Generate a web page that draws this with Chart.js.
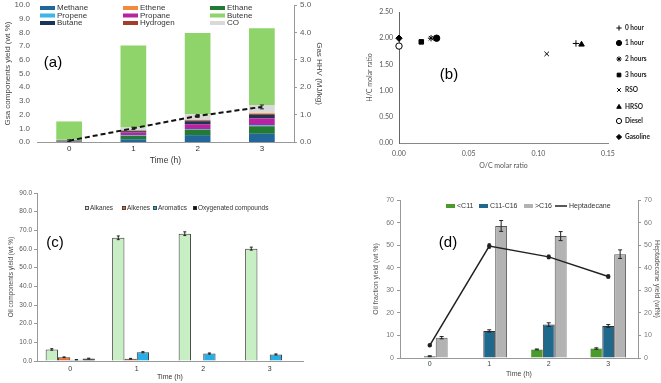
<!DOCTYPE html>
<html><head><meta charset="utf-8">
<script src="https://cdn.jsdelivr.net/npm/chart.js@4.4.0/dist/chart.umd.min.js"></script>
<style>
html,body{margin:0;padding:0;background:#fff;width:661px;height:383px;overflow:hidden}
canvas{position:absolute}
</style></head><body>
<canvas id="ca" width="330" height="175" style="left:0;top:0;width:330px;height:175px"></canvas>
<canvas id="cb" width="321" height="180" style="left:340px;top:0;width:321px;height:180px"></canvas>
<canvas id="cc" width="335" height="193" style="left:0;top:190px;width:335px;height:193px"></canvas>
<canvas id="cd" width="321" height="193" style="left:340px;top:190px;width:321px;height:193px"></canvas>
<script>
// ================= DATA =================
const timeLabels = ['0', '1', '2', '3'];

// (a) gas component yields (wt %)
const gasMethane  = [0.02, 0.20, 0.50, 0.60];
const gasEthane   = [0.04, 0.25, 0.40, 0.55];
const gasPropene  = [0.01, 0.04, 0.05, 0.08];
const gasPropane  = [0.02, 0.20, 0.35, 0.50];
const gasButane   = [0.02, 0.10, 0.22, 0.25];
const gasHydrogen = [0.02, 0.04, 0.06, 0.07];
const gasEthene   = [0.01, 0.03, 0.04, 0.05];
const gasCO       = [0.02, 0.20, 0.40, 0.60];
const gasButene   = [1.34, 5.99, 5.93, 5.60];
const gasHHV      = [0.05, 0.50, 0.95, 1.28];   // MJ/kg (right axis)
const gasHHVErr   = [0.03, 0.04, 0.05, 0.07];

// (b) van Krevelen points
const bNames = ['0 hour', '1 hour', '2 hours', '3 hours', 'RSO', 'HRSO', 'Diesel', 'Gasoline'];
const bOC    = [0.127, 0.027, 0.023, 0.016, 0.106, 0.131, 0.000, 0.000];
const bHC    = [1.90, 2.00, 2.00, 1.93, 1.70, 1.88, 1.85, 2.00];

// (c) oil components yield (wt %)
const oilAlkanes   = [6.2, 66.0, 68.2, 60.2];
const oilAlkenes   = [2.0, 1.2, null, null];
const oilAromatics = [0.7, 4.7, 4.0, 3.5];
const oilOxygen    = [1.3, null, null, null];
const errAlkanes   = [0.4, 1.0, 1.0, 0.8];
const errAlkenes   = [0.2, 0.2, 0, 0];
const errAromatics = [0.1, 0.3, 0.3, 0.3];
const errOxygen    = [0.2, 0, 0, 0];

// (d) oil fraction yield (wt %)
const fracLt11   = [null, null, 3.8, 4.2];
const frac11to16 = [0.8, 12.0, 14.8, 14.2];
const fracGt16   = [9.0, 58.5, 54.0, 46.0];
const heptadecane = [5.6, 49.6, 44.8, 36.1];
const errLt11   = [0, 0, 0.2, 0.3];
const err11to16 = [0.2, 0.5, 0.8, 0.6];
const errGt16   = [0.5, 2.4, 2.0, 1.9];
const errHepta  = [0.3, 1.0, 0.8, 0.7];

// ================= HELPERS =================
Chart.defaults.font.family = "'Liberation Sans', Arial, sans-serif";
Chart.defaults.animation = false;
const fixW = w => s => { s.width = w; s.paddingTop = 0; s.paddingBottom = 0; };
const fixH = h => s => { s.height = h; };

const errorBars = {
  id: 'errorBars',
  afterDatasetsDraw(chart) {
    const ctx = chart.ctx;
    chart.data.datasets.forEach((ds, i) => {
      if (!ds.errors) return;
      const meta = chart.getDatasetMeta(i);
      const yS = chart.scales[meta.yAxisID];
      ctx.save();
      ctx.strokeStyle = ds.errorColor || '#222';
      ctx.lineWidth = 1;
      meta.data.forEach((el, j) => {
        const e = ds.errors[j], v = ds.data[j];
        if (!e || v == null) return;
        const x = el.x, y1 = yS.getPixelForValue(v + e), y2 = yS.getPixelForValue(v - e);
        const c = ds.errorCap || 2;
        ctx.beginPath();
        ctx.moveTo(x, y1); ctx.lineTo(x, y2);
        ctx.moveTo(x - c, y1); ctx.lineTo(x + c, y1);
        ctx.moveTo(x - c, y2); ctx.lineTo(x + c, y2);
        ctx.stroke();
      });
      ctx.restore();
    });
  }
};

function drawMarker(ctx, style, r, x, y) {
  if (Chart.helpers && Chart.helpers.drawPoint) {
    Chart.helpers.drawPoint(ctx, {pointStyle: style, radius: r, borderWidth: 1, rotation: 0}, x, y);
  }
}

function makeLegend(items, cfg) {
  return {
    id: 'gridLegend',
    afterDraw(chart) {
      const ctx = chart.ctx;
      ctx.save();
      ctx.textBaseline = 'middle';
      ctx.font = cfg.font;
      items.forEach(it => {
        const ds = chart.data.datasets[it.ds];
        if (it.kind === 'box') {
          ctx.fillStyle = ds.backgroundColor;
          ctx.fillRect(it.x, it.y - cfg.h / 2, cfg.w, cfg.h);
          if (cfg.border) { ctx.strokeStyle = cfg.border; ctx.lineWidth = 0.8; ctx.strokeRect(it.x + 0.5, it.y - cfg.h / 2 + 0.5, cfg.w - 1, cfg.h - 1); }
        } else if (it.kind === 'line') {
          ctx.strokeStyle = ds.borderColor; ctx.lineWidth = 1.5;
          ctx.beginPath(); ctx.moveTo(it.x, it.y); ctx.lineTo(it.x + it.w, it.y); ctx.stroke();
        } else if (it.kind === 'point') {
          ctx.fillStyle = ds.pointBackgroundColor; ctx.strokeStyle = ds.pointBorderColor;
          ctx.lineWidth = 1;
          drawMarker(ctx, ds.pointStyle, cfg.r, it.x, it.y);
        }
        ctx.fillStyle = cfg.color;
        ctx.font = cfg.font;
        ctx.fillText(ds.label, it.tx !== undefined ? it.tx : it.x + cfg.w + cfg.gap, it.y);
      });
      ctx.restore();
    }
  };
}

function panelLabel(text, x, y) {
  return {
    id: 'panelLabel',
    afterDraw(chart) {
      const ctx = chart.ctx;
      ctx.save();
      ctx.font = "15px 'Liberation Sans', Arial, sans-serif";
      ctx.fillStyle = '#000';
      ctx.textAlign = 'center'; ctx.textBaseline = 'middle';
      ctx.fillText(text, x, y);
      ctx.restore();
    }
  };
}

// ================= (a) =================
const aSeries = [
  ['Methane', gasMethane, '#21679a'],
  ['Ethane', gasEthane, '#237a32'],
  ['Propene', gasPropene, '#3cb6e6'],
  ['Propane', gasPropane, '#b8249f'],
  ['Butane', gasButane, '#1a3556'],
  ['Hydrogen', gasHydrogen, '#a33d2c'],
  ['Ethene', gasEthene, '#f28a3c'],
  ['CO', gasCO, '#d9d9d9'],
  ['Butene', gasButene, '#8ed46a']
];
const aDatasets = aSeries.map(s => ({label: s[0], data: s[1], backgroundColor: s[2], yAxisID: 'y', stack: 'g', order: 2}));
aDatasets.push({type: 'line', label: 'HHV', data: gasHHV, errors: gasHHVErr, errorCap: 2, yAxisID: 'y2',
  borderColor: '#111', borderWidth: 2, borderDash: [5, 3], pointRadius: 0, fill: false, order: 1});
const aIdx = n => aSeries.findIndex(s => s[0] === n);
const aLegendItems = [];
[['Methane', 'Ethene', 'Ethane'], ['Propene', 'Propane', 'Butene'], ['Butane', 'Hydrogen', 'CO']].forEach((row, r) => {
  row.forEach((n, c) => aLegendItems.push({ds: aIdx(n), kind: 'box', x: [40, 123, 210][c], y: [8, 15.5, 23][r]}));
});
const tickGray = '#595959';
new Chart(document.getElementById('ca'), {
  type: 'bar',
  data: {labels: timeLabels, datasets: aDatasets},
  options: {
    responsive: false,
    layout: {padding: {left: 0, right: 6, top: 5, bottom: 9}},
    plugins: {legend: {display: false}, tooltip: {enabled: false}},
    datasets: {bar: {categoryPercentage: 0.8, barPercentage: 0.5}},
    scales: {
      x: {stacked: true, grid: {display: false, drawTicks: false}, border: {color: '#999'},
        ticks: {color: '#333', font: {size: 8}, padding: 2},
        title: {display: true, text: 'Time (h)', color: '#333', font: {size: 8.5}, padding: {top: 0, bottom: 0}},
        afterFit: fixH(24)},
      y: {stacked: true, position: 'left', min: 0, max: 10,
        ticks: {stepSize: 1, color: tickGray, font: {size: 8}, padding: 7, callback: v => v.toFixed(1)},
        grid: {display: false, drawTicks: false}, border: {display: false},
        title: {display: true, text: 'Gsa components yield (wt %)', color: '#444', font: {size: 8}, padding: {top: 3, bottom: 0}},
        afterFit: fixW(37)},
      y2: {position: 'right', min: 0, max: 5,
        ticks: {stepSize: 1, color: tickGray, font: {size: 8}, padding: 3, callback: v => v.toFixed(1)},
        grid: {display: true, drawOnChartArea: false, drawTicks: true, tickLength: 3, color: '#999'}, border: {color: '#999'},
        title: {display: true, text: 'Gas HHV (MJ/kg)', color: '#444', font: {size: 8}, padding: {top: 0, bottom: 1}},
        afterFit: fixW(30)}
    }
  },
  plugins: [errorBars, makeLegend(aLegendItems, {font: "8px 'Liberation Sans', Arial", color: '#333', w: 15, h: 4, gap: 2}), panelLabel('(a)', 53, 63)]
});

// ================= (b) =================
const bStyles = ['cross', 'circle', 'star', 'rect', 'crossRot', 'triangle', 'circle', 'rectRot'];
const bFills  = ['#000', '#000', '#000', '#000', '#000', '#000', '#fff', '#000'];
const bDatasets = bNames.map((n, i) => ({
  label: n, data: [{x: bOC[i], y: bHC[i]}], pointStyle: bStyles[i],
  pointRadius: 3.2, pointBackgroundColor: bFills[i], pointBorderColor: '#000', pointBorderWidth: 1, clip: false
}));
const bLegendItems = bNames.map((n, i) => ({ds: i, kind: 'point', x: 279, tx: 285, y: [28, 43, 59, 75, 90, 107, 121, 137][i]}));
new Chart(document.getElementById('cb'), {
  type: 'scatter',
  data: {datasets: bDatasets},
  options: {
    responsive: false,
    layout: {padding: {left: 24, right: 53, top: 12, bottom: 10}},
    plugins: {legend: {display: false}, tooltip: {enabled: false}},
    scales: {
      x: {type: 'linear', min: 0, max: 0.15, grid: {display: false, drawTicks: false}, border: {color: '#888'},
        ticks: {stepSize: 0.05, color: '#555', font: {family: 'Lato', size: 7}, padding: 7, callback: v => v.toFixed(2)},
        title: {display: true, text: 'O/C molar ratio', color: '#555', font: {family: 'Lato', size: 7}, padding: {top: 0, bottom: 0}},
        afterFit: fixH(27)},
      y: {min: 0, max: 2.5, grid: {display: false, drawTicks: false}, border: {color: '#666'},
        ticks: {stepSize: 0.5, color: '#555', font: {family: 'Lato', size: 7}, padding: 6, callback: v => v.toFixed(2)},
        title: {display: true, text: 'H/C molar ratio', color: '#555', font: {family: 'Lato', size: 7}, padding: {top: 2, bottom: 0}},
        afterFit: fixW(35)}
    }
  },
  plugins: [makeLegend(bLegendItems, {font: "bold 6.5px Lato, 'Open Sans', sans-serif", color: '#222', w: 0, h: 0, gap: 0, r: 2.6}), panelLabel('(b)', 109, 75)]
});

// ================= (c) =================
const cDatasets = [
  {label: 'Alkanes', data: oilAlkanes, errors: errAlkanes, backgroundColor: '#c8efc4'},
  {label: 'Alkenes', data: oilAlkenes, errors: errAlkenes, backgroundColor: '#ef6a2c'},
  {label: 'Aromatics', data: oilAromatics, errors: errAromatics, backgroundColor: '#27aee6'},
  {label: 'Oxygenated compounds', data: oilOxygen, errors: errOxygen, backgroundColor: '#111'}
].map(d => Object.assign(d, {borderColor: '#3a3a3a', borderWidth: 1, errorCap: 1.5}));
const cLegendItems = [
  {ds: 0, kind: 'box', x: 85, y: 18}, {ds: 1, kind: 'box', x: 122, y: 18},
  {ds: 2, kind: 'box', x: 153, y: 18}, {ds: 3, kind: 'box', x: 193, y: 18}
];
new Chart(document.getElementById('cc'), {
  type: 'bar',
  data: {labels: timeLabels, datasets: cDatasets},
  options: {
    responsive: false,
    layout: {padding: {left: 5, right: 32, top: 3, bottom: 2}},
    plugins: {legend: {display: false}, tooltip: {enabled: false}},
    datasets: {bar: {categoryPercentage: 0.74, barPercentage: 1.0, borderSkipped: 'start'}},
    scales: {
      x: {grid: {display: false, drawTicks: false}, border: {color: '#999'},
        ticks: {color: '#333', font: {size: 7}, padding: 4},
        title: {display: true, text: 'Time (h)', color: '#333', font: {size: 7}, padding: {top: 0, bottom: 0}},
        afterFit: fixH(20)},
      y: {min: 0, max: 90,
        ticks: {stepSize: 10, color: tickGray, font: {size: 6.5}, padding: 2, callback: v => v.toFixed(1)},
        grid: {display: true, drawOnChartArea: false, drawTicks: true, tickLength: 3, color: '#999'}, border: {color: '#999'},
        title: {display: true, text: 'Oil components yield (wt %)', color: '#444', font: {size: 6.5}, padding: {top: 2, bottom: 0}},
        afterFit: fixW(32)}
    }
  },
  plugins: [errorBars, makeLegend(cLegendItems, {font: "6.5px 'Liberation Sans', Arial", color: '#333', w: 4, h: 4, gap: 1, border: '#333'}), panelLabel('(c)', 55, 53)]
});

// ================= (d) =================
const dDatasets = [
  {label: '<C11', data: fracLt11, errors: errLt11, backgroundColor: '#4a9a2c', borderColor: '#3a6a2a', borderWidth: 0.5, yAxisID: 'y', order: 2},
  {label: 'C11-C16', data: frac11to16, errors: err11to16, backgroundColor: '#1f6a8c', borderColor: '#333', borderWidth: 1, yAxisID: 'y', order: 2},
  {label: '>C16', data: fracGt16, errors: errGt16, backgroundColor: '#b3b3b3', borderColor: '#555', borderWidth: 1, yAxisID: 'y', order: 2},
  {type: 'line', label: 'Heptadecane', data: heptadecane, errors: errHepta, yAxisID: 'y2', borderColor: '#222', borderWidth: 1.5,
    pointRadius: 1.5, pointBackgroundColor: '#222', pointBorderColor: '#222', fill: false, order: 1, errorCap: 1.5}
];
const dLegendItems = [
  {ds: 0, kind: 'box', x: 106, y: 16}, {ds: 1, kind: 'box', x: 139, y: 16},
  {ds: 2, kind: 'box', x: 184, y: 16}, {ds: 3, kind: 'line', x: 215, w: 12, tx: 229, y: 16}
];
new Chart(document.getElementById('cd'), {
  type: 'bar',
  data: {labels: timeLabels, datasets: dDatasets},
  options: {
    responsive: false,
    layout: {padding: {left: 32, right: 0, top: 10, bottom: 5}},
    plugins: {legend: {display: false}, tooltip: {enabled: false}},
    datasets: {bar: {categoryPercentage: 0.6, barPercentage: 1.0, borderSkipped: 'start'}},
    scales: {
      x: {grid: {display: false, drawTicks: false}, border: {color: '#999'},
        ticks: {color: '#444', font: {size: 7}, padding: 2},
        title: {display: true, text: 'Time (h)', color: '#444', font: {size: 7}, padding: {top: 0, bottom: 0}},
        afterFit: fixH(20)},
      y: {min: 0, max: 70,
        ticks: {stepSize: 10, color: '#777', font: {size: 7}, padding: 3},
        grid: {display: true, drawOnChartArea: false, drawTicks: true, tickLength: 3, color: '#999'}, border: {color: '#999'},
        title: {display: true, text: 'Oil fraction yield (wt %)', color: '#555', font: {size: 7}, padding: {top: 0, bottom: 0}},
        afterFit: fixW(28)},
      y2: {position: 'right', min: 0, max: 70,
        ticks: {stepSize: 10, color: '#777', font: {size: 7}, padding: 3},
        grid: {display: true, drawOnChartArea: false, drawTicks: true, tickLength: 3, color: '#999'}, border: {color: '#999'},
        title: {display: true, text: 'Heptadecane yield (wt%)', color: '#555', font: {size: 7}, padding: {top: 0, bottom: 1}},
        afterFit: fixW(23)}
    }
  },
  plugins: [errorBars, makeLegend(dLegendItems, {font: "7px 'Liberation Sans', Arial", color: '#333', w: 9, h: 4, gap: 2}), panelLabel('(d)', 108, 53)]
});
</script>
</body></html>
